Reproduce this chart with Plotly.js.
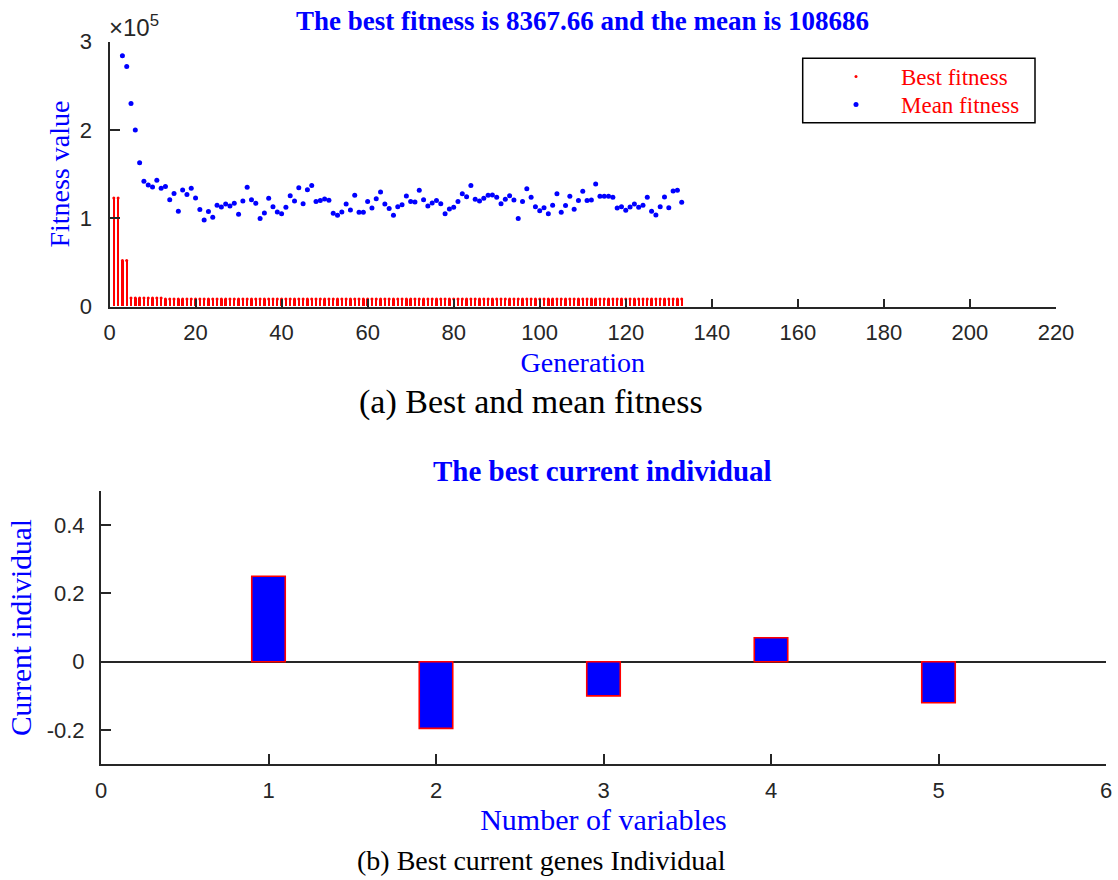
<!DOCTYPE html>
<html>
<head>
<meta charset="utf-8">
<script src="https://cdn.plot.ly/plotly-3.0.1.min.js"></script>
<style>html,body{margin:0;padding:0;background:#fff;}#chart{width:1118px;height:880px;}</style>
</head>
<body>
<div id="chart"></div>
<script>
// ---- Data: (a) best and mean fitness per generation ----
const generations = Array.from({length: 133}, (_, i) => i + 1);

const bestFitness = [
  123000, 123000, 52000, 52000, 9600, 9600, 9600, 9600, 9600, 9600,
  9600, 9600, 8367.66, 8367.66, 8367.66, 8367.66, 8367.66, 8367.66, 8367.66, 8367.66,
  8367.66, 8367.66, 8367.66, 8367.66, 8367.66, 8367.66, 8367.66, 8367.66, 8367.66, 8367.66,
  8367.66, 8367.66, 8367.66, 8367.66, 8367.66, 8367.66, 8367.66, 8367.66, 8367.66, 8367.66,
  8367.66, 8367.66, 8367.66, 8367.66, 8367.66, 8367.66, 8367.66, 8367.66, 8367.66, 8367.66,
  8367.66, 8367.66, 8367.66, 8367.66, 8367.66, 8367.66, 8367.66, 8367.66, 8367.66, 8367.66,
  8367.66, 8367.66, 8367.66, 8367.66, 8367.66, 8367.66, 8367.66, 8367.66, 8367.66, 8367.66,
  8367.66, 8367.66, 8367.66, 8367.66, 8367.66, 8367.66, 8367.66, 8367.66, 8367.66, 8367.66,
  8367.66, 8367.66, 8367.66, 8367.66, 8367.66, 8367.66, 8367.66, 8367.66, 8367.66, 8367.66,
  8367.66, 8367.66, 8367.66, 8367.66, 8367.66, 8367.66, 8367.66, 8367.66, 8367.66, 8367.66,
  8367.66, 8367.66, 8367.66, 8367.66, 8367.66, 8367.66, 8367.66, 8367.66, 8367.66, 8367.66,
  8367.66, 8367.66, 8367.66, 8367.66, 8367.66, 8367.66, 8367.66, 8367.66, 8367.66, 8367.66,
  8367.66, 8367.66, 8367.66, 8367.66, 8367.66, 8367.66, 8367.66, 8367.66, 8367.66, 8367.66,
  8367.66, 8367.66, 8367.66
];

// generations 1-2 lie above the plotted range (unknown), left as null
const meanFitness = [
  null, null, 284000, 272000, 230000, 200000, 163000, 142000, 137600, 135300,
  143000, 134000, 136000, 121000, 128000, 108000, 132000, 127000, 134000, 123000,
  110000, 98000, 107500, 101000, 114700, 112800, 116000, 114000, 117000, 104500,
  119500, 135000, 121000, 117000, 99600, 106000, 122500, 113000, 107000, 105000,
  112400, 125500, 119500, 134500, 116500, 132300, 137000, 119000, 120000, 121800,
  120300, 105700, 103400, 107100, 116200, 109400, 126000, 106800, 106800, 119000,
  111700, 122000, 129700, 116000, 111000, 103400, 113000, 115400, 125200, 119000,
  118400, 131600, 121000, 113900, 117300, 120000, 116500, 105200, 110500, 112400,
  119000, 127800, 124400, 137000, 121500, 119500, 122600, 126000, 126300, 123700,
  116500, 121500, 125500, 120700, 99600, 119000, 133400, 123700, 113000, 108600,
  112000, 105200, 114700, 127800, 106800, 114300, 124800, 110200, 120000, 130500,
  120000, 120700, 138700, 124800, 125000, 125000, 123700, 111700, 113000, 109000,
  112800, 116200, 112400, 114700, 123700, 108000, 103800, 113000, 124000, 112000,
  130800, 131600, 118000
];

const fitnessTickVals = [0, 100000, 200000, 300000];
const fitnessTickText = ['0', '1', '2', '3'];
const generationTicks = [0, 20, 40, 60, 80, 100, 120, 140, 160, 180, 200, 220];

// ---- Data: (b) best current individual ----
const variableIndex = [1, 2, 3, 4, 5];
const individualValues = [0.25, -0.195, -0.1, 0.07, -0.12];
const variableTicks = [0, 1, 2, 3, 4, 5, 6];
const individualTicks = [-0.2, 0, 0.2, 0.4];
const individualTickText = ['-0.2', '0', '0.2', '0.4'];

// ---- Styling helpers ----
const W = 1118, H = 880;
const px = x => x / W;
const py = y => (H - y) / H;
const AX = '#262626';
const BLUE = '#0000ff';
const SERIF = '"Liberation Serif", "Times New Roman", serif';
const SANS = '"Liberation Sans", Arial, sans-serif';

const traces = [
  {
    type: 'bar', x: generations, y: bestFitness, width: 0.55,
    marker: {color: '#ff0000', line: {width: 0}},
    xaxis: 'x', yaxis: 'y', showlegend: false
  },
  {
    type: 'scatter', mode: 'markers', name: 'Best fitness',
    x: generations, y: bestFitness,
    marker: {color: '#ff0000', size: 3},
    xaxis: 'x', yaxis: 'y', legend: 'legend'
  },
  {
    type: 'scatter', mode: 'markers', name: 'Mean fitness',
    x: generations, y: meanFitness,
    marker: {color: BLUE, size: 5},
    xaxis: 'x', yaxis: 'y', legend: 'legend2'
  },
  {
    type: 'bar', x: variableIndex, y: individualValues, width: 0.2,
    marker: {color: BLUE, line: {color: '#ff0000', width: 1.6}},
    xaxis: 'x2', yaxis: 'y2', showlegend: false
  }
];

const axisCommon = {
  showline: true, linecolor: AX, linewidth: 2,
  ticks: 'inside', tickcolor: AX, tickwidth: 2,
  showgrid: false, zeroline: false,
  tickfont: {family: SANS, size: 22, color: AX},
  fixedrange: true
};

const legendCommon = {
  xanchor: 'left', yanchor: 'top',
  bgcolor: 'rgba(0,0,0,0)', borderwidth: 0,
  font: {family: SERIF, size: 23, color: '#ff0000'},
  itemwidth: 80
};

const layout = {
  width: W, height: H,
  margin: {l: 0, r: 0, t: 0, b: 0},
  paper_bgcolor: '#ffffff', plot_bgcolor: '#ffffff',
  bargap: 0,
  showlegend: true,
  legend: Object.assign({}, legendCommon, {x: px(811), y: py(55)}),
  legend2: Object.assign({}, legendCommon, {x: px(811), y: py(83)}),
  xaxis: Object.assign({}, axisCommon, {
    domain: [px(109.5), px(1056)], range: [0, 220],
    tickvals: generationTicks, ticklen: 8, ticklabelstandoff: 5,
    anchor: 'y',
    title: {text: 'Generation', font: {family: SERIF, size: 28, color: BLUE}, standoff: 8}
  }),
  yaxis: Object.assign({}, axisCommon, {
    domain: [py(306.5), py(41.7)], range: [0, 300000],
    tickvals: fitnessTickVals, ticktext: fitnessTickText, ticklen: 10, ticklabelstandoff: 11,
    anchor: 'x',
    title: {text: 'Fitness value', font: {family: SERIF, size: 28, color: BLUE}, standoff: 2}
  }),
  xaxis2: Object.assign({}, axisCommon, {
    domain: [px(101), px(1106)], range: [0, 6],
    tickvals: variableTicks, ticklen: 10, ticklabelstandoff: 5,
    anchor: 'y2',
    title: {text: 'Number of variables', font: {family: SERIF, size: 30, color: BLUE}, standoff: 0}
  }),
  yaxis2: Object.assign({}, axisCommon, {
    domain: [py(764.3), py(490.7)], range: [-0.3, 0.5],
    tickvals: individualTicks, ticktext: individualTickText, ticklen: 10, ticklabelstandoff: 10,
    zeroline: true, zerolinecolor: AX, zerolinewidth: 2,
    anchor: 'x2',
    title: {text: 'Current individual', font: {family: SERIF, size: 29.5, color: BLUE}, standoff: 6}
  }),
  shapes: [
    {type: 'rect', xref: 'paper', yref: 'paper',
     x0: px(802.7), x1: px(1035), y0: py(122.7), y1: py(58.3),
     line: {color: '#000000', width: 1.5}, fillcolor: 'rgba(0,0,0,0)'}
  ],
  annotations: [
    {text: '<b>The best fitness is 8367.66 and the mean is 108686</b>',
     xref: 'paper', yref: 'paper', x: px(582.5), y: py(21), xanchor: 'center', yanchor: 'middle',
     showarrow: false, font: {family: SERIF, size: 27, color: BLUE}},
    {text: '×10<sup>5</sup>', xref: 'paper', yref: 'paper', x: px(107), y: py(43),
     xanchor: 'left', yanchor: 'bottom', showarrow: false,
     font: {family: SANS, size: 24, color: AX}},
    {text: '(a) Best and mean fitness', xref: 'paper', yref: 'paper', x: px(531), y: py(402),
     xanchor: 'center', yanchor: 'middle', showarrow: false,
     font: {family: SERIF, size: 34, color: '#000000'}},
    {text: '<b>The best current individual</b>', xref: 'paper', yref: 'paper', x: px(602.5), y: py(471),
     xanchor: 'center', yanchor: 'middle', showarrow: false,
     font: {family: SERIF, size: 29, color: BLUE}},
    {text: '(b) Best current genes Individual', xref: 'paper', yref: 'paper', x: px(541), y: py(860),
     xanchor: 'center', yanchor: 'middle', showarrow: false,
     font: {family: SERIF, size: 28, color: '#000000'}}
  ]
};

Plotly.newPlot('chart', traces, layout, {staticPlot: true, displayModeBar: false});
</script>
</body>
</html>
